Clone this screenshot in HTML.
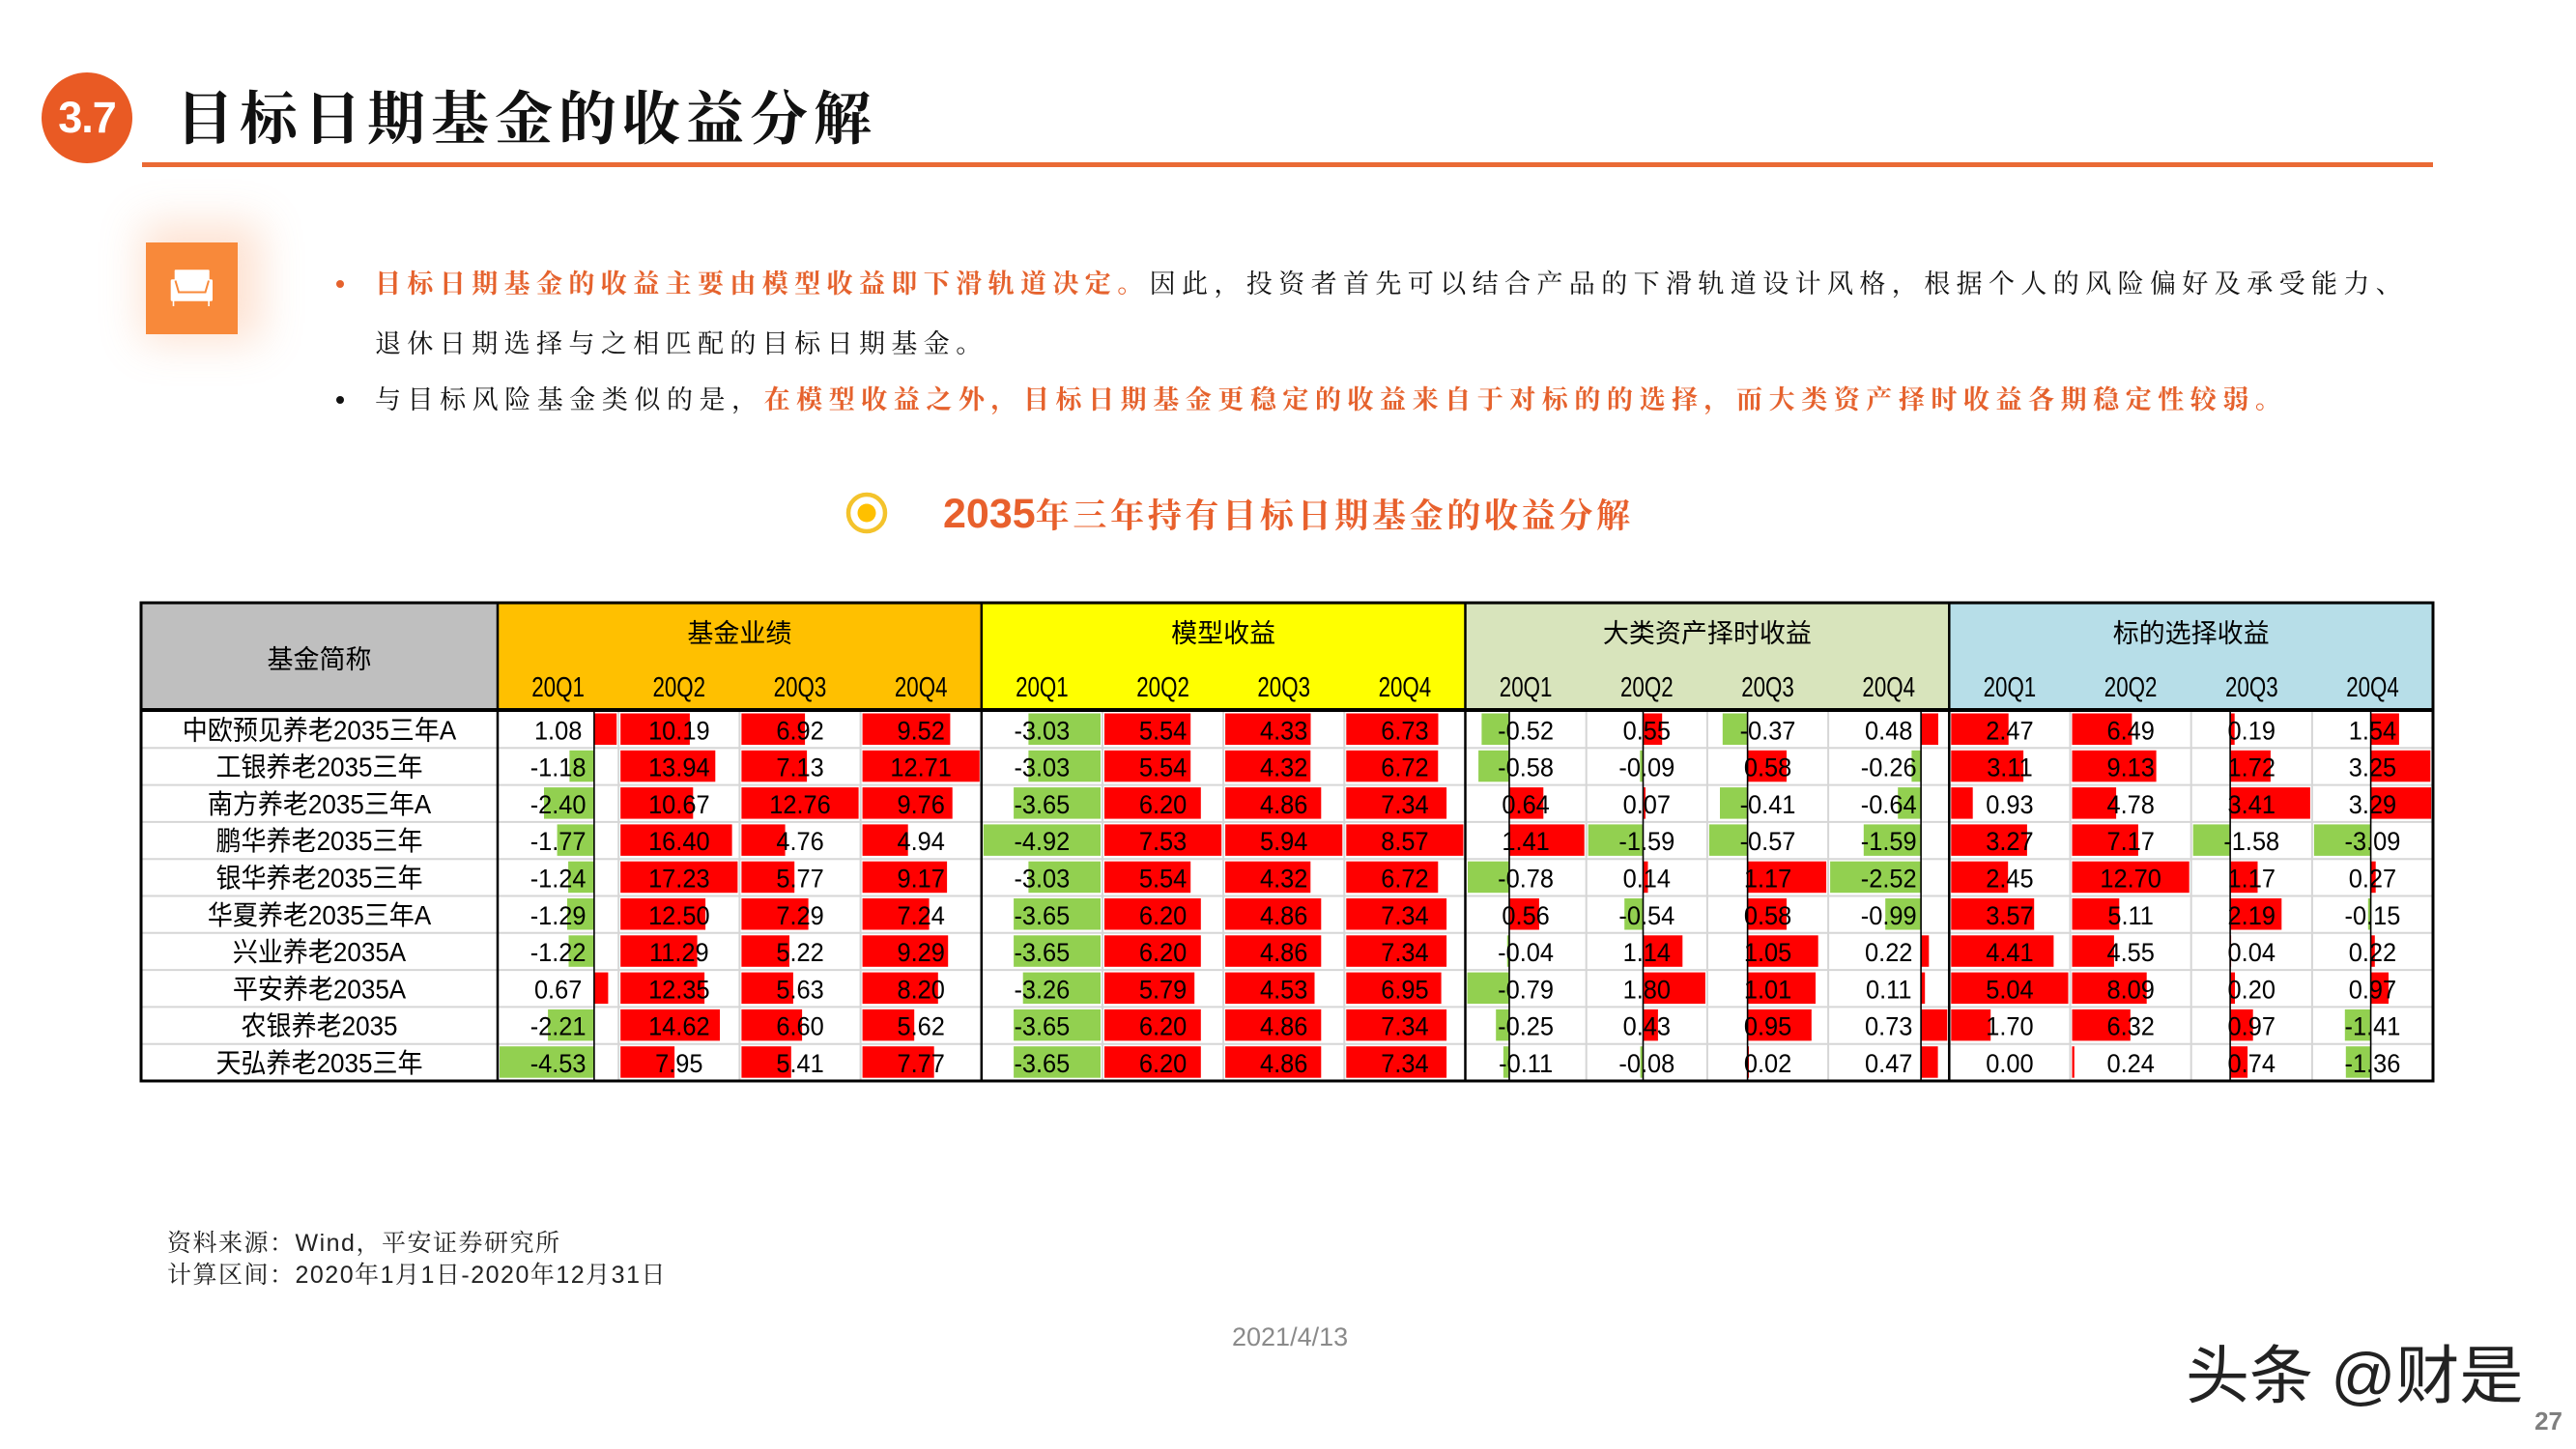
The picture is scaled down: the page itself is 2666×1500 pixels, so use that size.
<!DOCTYPE html>
<html>
<head>
<meta charset="utf-8">
<style>
  html,body{margin:0;padding:0;background:#fff;}
  #page{position:relative;width:2666px;height:1500px;overflow:hidden;background:#fff;}
  .abs{position:absolute;white-space:nowrap;}
  .badge{left:43px;top:75px;width:94px;height:94px;border-radius:50%;background:#E95A24;color:#fff;
    font:bold 45px/94px "Liberation Sans",sans-serif;text-align:center;letter-spacing:-1px;}
  .title{left:182px;top:93px;height:62px;font:bold 60px/62px "Liberation Serif","Noto Serif CJK SC",serif;letter-spacing:6px;color:#111;}
  .rule{left:147px;top:168px;width:2371px;height:5px;background:#EA6A35;}
  .ibox{left:151px;top:251px;width:95px;height:95px;background:#F8893A;box-shadow:10px -6px 40px 14px rgba(249,160,105,0.30);}
  .txt{font-family:"Liberation Serif","Noto Serif CJK SC",serif;font-size:27px;line-height:40px;height:40px;color:#111;}
  .or{color:#E5622D;font-weight:bold;}
  .dot{width:8px;height:8px;border-radius:50%;}
  .ctitle{left:976px;top:508px;height:48px;line-height:48px;color:#E8602C;font-weight:bold;font-family:"Liberation Sans","Noto Serif CJK SC",serif;}
  .foot{left:173px;font-family:"Liberation Sans","Noto Serif CJK SC",serif;font-size:25px;line-height:32px;height:32px;letter-spacing:1.5px;color:#222;}
</style>
</head>
<body>
<div id="page">
  <div class="abs badge">3.7</div>
  <div class="abs title">目标日期基金的收益分解</div>
  <div class="abs rule"></div>

  <div class="abs ibox">
    <svg width="95" height="95" viewBox="0 0 95 95">
      <g fill="#fff">
        <rect x="25.7" y="38.3" width="43.3" height="22.4" rx="1.5"/>
        <rect x="29.7" y="28.3" width="36" height="13" rx="1"/>
        <rect x="27.7" y="60" width="1.6" height="6"/>
        <rect x="64.3" y="60" width="1.6" height="6"/>
      </g>
      <path d="M30.5 39.5 L34 51.5 L61.5 51.5 L65 39.5" fill="none" stroke="#F8893A" stroke-width="2"/>
    </svg>
  </div>

  <!-- bullets -->
  <div class="abs dot" style="left:348px;top:290px;background:#E5622D;"></div>
  <div class="abs txt" style="left:388px;top:274px;letter-spacing:6.4px;"><span class="or">目标日期基金的收益主要由模型收益即下滑轨道决定。</span>因此，投资者首先可以结合产品的下滑轨道设计风格，根据个人的风险偏好及承受能力、</div>
  <div class="abs txt" style="left:388px;top:336px;letter-spacing:6.4px;">退休日期选择与之相匹配的目标日期基金。</div>
  <div class="abs dot" style="left:348px;top:410px;background:#111;"></div>
  <div class="abs txt" style="left:388px;top:394px;letter-spacing:6.55px;">与目标风险基金类似的是，<span class="or">在模型收益之外，目标日期基金更稳定的收益来自于对标的的选择，而大类资产择时收益各期稳定性较弱。</span></div>

  <!-- chart title -->
  <svg class="abs" style="left:870px;top:504px;" width="54" height="54" viewBox="870 504 54 54">
    <circle cx="897" cy="531" r="19" fill="none" stroke="#F4C32C" stroke-width="4.5"/>
    <circle cx="897" cy="531" r="9.5" fill="#FFC000"/>
  </svg>
  <div class="abs ctitle"><span style="font-size:43px;">2035</span><span style="font-size:35px;letter-spacing:3.7px;">年三年持有目标日期基金的收益分解</span></div>

  <!-- table -->
  <svg class="abs" style="left:0;top:0;" width="2666" height="1500" viewBox="0 0 2666 1500">
    <style>
      .r{fill:#FF0000}.g{fill:#92D050}
      .num{font-family:'Liberation Sans',sans-serif;font-size:27px;fill:#000;}
      .nm{font-family:'Liberation Sans','Noto Sans CJK SC',sans-serif;font-size:28px;fill:#000;}
      .hd{font-family:'Liberation Sans','Noto Sans CJK SC',sans-serif;font-size:27px;fill:#000;}
      .q{font-family:'Liberation Sans',sans-serif;font-size:29px;fill:#000;}
    </style>
    <!-- header fills -->
    <rect x="146" y="624" width="369" height="111" fill="#BFBFBF"/>
    <rect x="515" y="624" width="500.8" height="111" fill="#FFC000"/>
    <rect x="1015.8" y="624" width="500.7" height="111" fill="#FFFF00"/>
    <rect x="1516.5" y="624" width="500.8" height="111" fill="#D8E4BC"/>
    <rect x="2017.3" y="624" width="500.8" height="111" fill="#B7DEE8"/>

    <!-- grid -->
    <g stroke="#D6D6D6" stroke-width="2">
      <line x1="146" y1="774.3" x2="2518" y2="774.3"/>
      <line x1="146" y1="812.6" x2="2518" y2="812.6"/>
      <line x1="146" y1="850.9" x2="2518" y2="850.9"/>
      <line x1="146" y1="889.2" x2="2518" y2="889.2"/>
      <line x1="146" y1="927.5" x2="2518" y2="927.5"/>
      <line x1="146" y1="965.8" x2="2518" y2="965.8"/>
      <line x1="146" y1="1004.1" x2="2518" y2="1004.1"/>
      <line x1="146" y1="1042.4" x2="2518" y2="1042.4"/>
      <line x1="146" y1="1080.7" x2="2518" y2="1080.7"/>
      <line x1="640.2" y1="736" x2="640.2" y2="1119"/>
      <line x1="765.4" y1="736" x2="765.4" y2="1119"/>
      <line x1="890.6" y1="736" x2="890.6" y2="1119"/>
      <line x1="1141.0" y1="736" x2="1141.0" y2="1119"/>
      <line x1="1266.1" y1="736" x2="1266.1" y2="1119"/>
      <line x1="1391.3" y1="736" x2="1391.3" y2="1119"/>
      <line x1="1641.7" y1="736" x2="1641.7" y2="1119"/>
      <line x1="1766.9" y1="736" x2="1766.9" y2="1119"/>
      <line x1="1892.1" y1="736" x2="1892.1" y2="1119"/>
      <line x1="2142.5" y1="736" x2="2142.5" y2="1119"/>
      <line x1="2267.7" y1="736" x2="2267.7" y2="1119"/>
      <line x1="2392.9" y1="736" x2="2392.9" y2="1119"/>
    </g>

    <!-- bars col0 -->
    <rect class="r" x="614.9" y="738.5" width="23.3" height="32.5"/>
    <rect class="g" x="589.4" y="776.8" width="25.5" height="32.5"/>
    <rect class="g" x="563.0" y="815.1" width="51.9" height="32.5"/>
    <rect class="g" x="576.6" y="853.4" width="38.3" height="32.5"/>
    <rect class="g" x="588.1" y="891.7" width="26.8" height="32.5"/>
    <rect class="g" x="587.0" y="930.0" width="27.9" height="32.5"/>
    <rect class="g" x="588.5" y="968.3" width="26.4" height="32.5"/>
    <rect class="r" x="614.9" y="1006.6" width="14.5" height="32.5"/>
    <rect class="g" x="567.1" y="1044.9" width="47.8" height="32.5"/>
    <rect class="g" x="517.0" y="1083.2" width="97.9" height="32.5"/>
    <!-- col1 -->
    <g class="r">
    <rect x="642.2" y="738.5" width="71.7" height="32.5"/>
    <rect x="642.2" y="776.8" width="98.1" height="32.5"/>
    <rect x="642.2" y="815.1" width="75.1" height="32.5"/>
    <rect x="642.2" y="853.4" width="115.4" height="32.5"/>
    <rect x="642.2" y="891.7" width="121.2" height="32.5"/>
    <rect x="642.2" y="930.0" width="87.9" height="32.5"/>
    <rect x="642.2" y="968.3" width="79.4" height="32.5"/>
    <rect x="642.2" y="1006.6" width="86.9" height="32.5"/>
    <rect x="642.2" y="1044.9" width="102.8" height="32.5"/>
    <rect x="642.2" y="1083.2" width="55.9" height="32.5"/>
    <!-- col2 -->
    <rect x="767.4" y="738.5" width="65.7" height="32.5"/>
    <rect x="767.4" y="776.8" width="67.7" height="32.5"/>
    <rect x="767.4" y="815.1" width="121.2" height="32.5"/>
    <rect x="767.4" y="853.4" width="45.2" height="32.5"/>
    <rect x="767.4" y="891.7" width="54.8" height="32.5"/>
    <rect x="767.4" y="930.0" width="69.2" height="32.5"/>
    <rect x="767.4" y="968.3" width="49.6" height="32.5"/>
    <rect x="767.4" y="1006.6" width="53.5" height="32.5"/>
    <rect x="767.4" y="1044.9" width="62.7" height="32.5"/>
    <rect x="767.4" y="1083.2" width="51.4" height="32.5"/>
    <!-- col3 -->
    <rect x="892.6" y="738.5" width="90.8" height="32.5"/>
    <rect x="892.6" y="776.8" width="121.2" height="32.5"/>
    <rect x="892.6" y="815.1" width="93.1" height="32.5"/>
    <rect x="892.6" y="853.4" width="47.1" height="32.5"/>
    <rect x="892.6" y="891.7" width="87.5" height="32.5"/>
    <rect x="892.6" y="930.0" width="69.0" height="32.5"/>
    <rect x="892.6" y="968.3" width="88.6" height="32.5"/>
    <rect x="892.6" y="1006.6" width="78.2" height="32.5"/>
    <rect x="892.6" y="1044.9" width="53.6" height="32.5"/>
    <rect x="892.6" y="1083.2" width="74.1" height="32.5"/>
    </g>
    <!-- col4 -->
    <g class="g">
    <rect x="1064.4" y="738.5" width="74.6" height="32.5"/>
    <rect x="1064.4" y="776.8" width="74.6" height="32.5"/>
    <rect x="1049.1" y="815.1" width="89.9" height="32.5"/>
    <rect x="1017.8" y="853.4" width="121.2" height="32.5"/>
    <rect x="1064.4" y="891.7" width="74.6" height="32.5"/>
    <rect x="1049.1" y="930.0" width="89.9" height="32.5"/>
    <rect x="1049.1" y="968.3" width="89.9" height="32.5"/>
    <rect x="1058.7" y="1006.6" width="80.3" height="32.5"/>
    <rect x="1049.1" y="1044.9" width="89.9" height="32.5"/>
    <rect x="1049.1" y="1083.2" width="89.9" height="32.5"/>
    </g>
    <g class="r">
    <!-- col5 -->
    <rect x="1143.0" y="738.5" width="89.2" height="32.5"/>
    <rect x="1143.0" y="776.8" width="89.2" height="32.5"/>
    <rect x="1143.0" y="815.1" width="99.8" height="32.5"/>
    <rect x="1143.0" y="853.4" width="121.2" height="32.5"/>
    <rect x="1143.0" y="891.7" width="89.2" height="32.5"/>
    <rect x="1143.0" y="930.0" width="99.8" height="32.5"/>
    <rect x="1143.0" y="968.3" width="99.8" height="32.5"/>
    <rect x="1143.0" y="1006.6" width="93.2" height="32.5"/>
    <rect x="1143.0" y="1044.9" width="99.8" height="32.5"/>
    <rect x="1143.0" y="1083.2" width="99.8" height="32.5"/>
    <!-- col6 -->
    <rect x="1268.1" y="738.5" width="88.4" height="32.5"/>
    <rect x="1268.1" y="776.8" width="88.2" height="32.5"/>
    <rect x="1268.1" y="815.1" width="99.2" height="32.5"/>
    <rect x="1268.1" y="853.4" width="121.2" height="32.5"/>
    <rect x="1268.1" y="891.7" width="88.2" height="32.5"/>
    <rect x="1268.1" y="930.0" width="99.2" height="32.5"/>
    <rect x="1268.1" y="968.3" width="99.2" height="32.5"/>
    <rect x="1268.1" y="1006.6" width="92.4" height="32.5"/>
    <rect x="1268.1" y="1044.9" width="99.2" height="32.5"/>
    <rect x="1268.1" y="1083.2" width="99.2" height="32.5"/>
    <!-- col7 -->
    <rect x="1393.3" y="738.5" width="95.2" height="32.5"/>
    <rect x="1393.3" y="776.8" width="95.0" height="32.5"/>
    <rect x="1393.3" y="815.1" width="103.8" height="32.5"/>
    <rect x="1393.3" y="853.4" width="121.2" height="32.5"/>
    <rect x="1393.3" y="891.7" width="95.0" height="32.5"/>
    <rect x="1393.3" y="930.0" width="103.8" height="32.5"/>
    <rect x="1393.3" y="968.3" width="103.8" height="32.5"/>
    <rect x="1393.3" y="1006.6" width="98.3" height="32.5"/>
    <rect x="1393.3" y="1044.9" width="103.8" height="32.5"/>
    <rect x="1393.3" y="1083.2" width="103.8" height="32.5"/>
    </g>
    <!-- col8 axis 1562.0 -->
    <rect class="g" x="1533.4" y="738.5" width="28.6" height="32.5"/>
    <rect class="g" x="1530.1" y="776.8" width="31.9" height="32.5"/>
    <rect class="r" x="1562.0" y="815.1" width="35.3" height="32.5"/>
    <rect class="r" x="1562.0" y="853.4" width="77.7" height="32.5"/>
    <rect class="g" x="1519.0" y="891.7" width="43.0" height="32.5"/>
    <rect class="r" x="1562.0" y="930.0" width="30.9" height="32.5"/>
    <rect class="g" x="1559.8" y="968.3" width="2.2" height="32.5"/>
    <rect class="g" x="1518.5" y="1006.6" width="43.5" height="32.5"/>
    <rect class="g" x="1548.2" y="1044.9" width="13.8" height="32.5"/>
    <rect class="g" x="1555.9" y="1083.2" width="6.1" height="32.5"/>
    <!-- col9 axis 1700.5 -->
    <rect class="r" x="1700.5" y="738.5" width="19.7" height="32.5"/>
    <rect class="g" x="1697.3" y="776.8" width="3.2" height="32.5"/>
    <rect class="r" x="1700.5" y="815.1" width="2.5" height="32.5"/>
    <rect class="g" x="1643.7" y="853.4" width="56.8" height="32.5"/>
    <rect class="r" x="1700.5" y="891.7" width="5.0" height="32.5"/>
    <rect class="g" x="1681.2" y="930.0" width="19.3" height="32.5"/>
    <rect class="r" x="1700.5" y="968.3" width="40.8" height="32.5"/>
    <rect class="r" x="1700.5" y="1006.6" width="64.4" height="32.5"/>
    <rect class="r" x="1700.5" y="1044.9" width="15.4" height="32.5"/>
    <rect class="g" x="1697.6" y="1083.2" width="2.9" height="32.5"/>
    <!-- col10 axis 1808.6 -->
    <rect class="g" x="1782.8" y="738.5" width="25.8" height="32.5"/>
    <rect class="r" x="1808.6" y="776.8" width="40.4" height="32.5"/>
    <rect class="g" x="1780.0" y="815.1" width="28.6" height="32.5"/>
    <rect class="g" x="1768.9" y="853.4" width="39.7" height="32.5"/>
    <rect class="r" x="1808.6" y="891.7" width="81.5" height="32.5"/>
    <rect class="r" x="1808.6" y="930.0" width="40.4" height="32.5"/>
    <rect class="r" x="1808.6" y="968.3" width="73.1" height="32.5"/>
    <rect class="r" x="1808.6" y="1006.6" width="70.4" height="32.5"/>
    <rect class="r" x="1808.6" y="1044.9" width="66.2" height="32.5"/>
    <rect class="r" x="1808.6" y="1083.2" width="1.4" height="32.5"/>
    <!-- col11 axis 1988.1 -->
    <rect class="r" x="1988.1" y="738.5" width="17.9" height="32.5"/>
    <rect class="g" x="1978.4" y="776.8" width="9.7" height="32.5"/>
    <rect class="g" x="1964.2" y="815.1" width="23.9" height="32.5"/>
    <rect class="g" x="1928.8" y="853.4" width="59.3" height="32.5"/>
    <rect class="g" x="1894.1" y="891.7" width="94.0" height="32.5"/>
    <rect class="g" x="1951.2" y="930.0" width="36.9" height="32.5"/>
    <rect class="r" x="1988.1" y="968.3" width="8.2" height="32.5"/>
    <rect class="r" x="1988.1" y="1006.6" width="4.1" height="32.5"/>
    <rect class="r" x="1988.1" y="1044.9" width="27.2" height="32.5"/>
    <rect class="r" x="1988.1" y="1083.2" width="17.5" height="32.5"/>
    <!-- col12 -->
    <g class="r">
    <rect x="2019.3" y="738.5" width="59.4" height="32.5"/>
    <rect x="2019.3" y="776.8" width="74.8" height="32.5"/>
    <rect x="2019.3" y="815.1" width="22.4" height="32.5"/>
    <rect x="2019.3" y="853.4" width="78.6" height="32.5"/>
    <rect x="2019.3" y="891.7" width="58.9" height="32.5"/>
    <rect x="2019.3" y="930.0" width="85.9" height="32.5"/>
    <rect x="2019.3" y="968.3" width="106.1" height="32.5"/>
    <rect x="2019.3" y="1006.6" width="121.2" height="32.5"/>
    <rect x="2019.3" y="1044.9" width="40.9" height="32.5"/>
    <!-- col13 -->
    <rect x="2144.5" y="738.5" width="61.9" height="32.5"/>
    <rect x="2144.5" y="776.8" width="87.1" height="32.5"/>
    <rect x="2144.5" y="815.1" width="45.6" height="32.5"/>
    <rect x="2144.5" y="853.4" width="68.4" height="32.5"/>
    <rect x="2144.5" y="891.7" width="121.2" height="32.5"/>
    <rect x="2144.5" y="930.0" width="48.8" height="32.5"/>
    <rect x="2144.5" y="968.3" width="43.4" height="32.5"/>
    <rect x="2144.5" y="1006.6" width="77.2" height="32.5"/>
    <rect x="2144.5" y="1044.9" width="60.3" height="32.5"/>
    <rect x="2144.5" y="1083.2" width="2.3" height="32.5"/>
    <!-- col14 axis 2308.1 -->
    <rect x="2308.1" y="738.5" width="4.6" height="32.5"/>
    <rect x="2308.1" y="776.8" width="41.8" height="32.5"/>
    <rect x="2308.1" y="815.1" width="82.8" height="32.5"/>
    <rect x="2308.1" y="891.7" width="28.4" height="32.5"/>
    <rect x="2308.1" y="930.0" width="53.2" height="32.5"/>
    <rect x="2308.1" y="968.3" width="1.0" height="32.5"/>
    <rect x="2308.1" y="1006.6" width="4.9" height="32.5"/>
    <rect x="2308.1" y="1044.9" width="23.6" height="32.5"/>
    <rect x="2308.1" y="1083.2" width="18.0" height="32.5"/>
    <!-- col15 axis 2453.6 -->
    <rect x="2453.6" y="738.5" width="29.3" height="32.5"/>
    <rect x="2453.6" y="776.8" width="61.7" height="32.5"/>
    <rect x="2453.6" y="815.1" width="62.5" height="32.5"/>
    <rect x="2453.6" y="891.7" width="5.1" height="32.5"/>
    <rect x="2453.6" y="968.3" width="4.2" height="32.5"/>
    <rect x="2453.6" y="1006.6" width="18.4" height="32.5"/>
    </g>
    <rect class="g" x="2269.7" y="853.4" width="38.4" height="32.5"/>
    <rect class="g" x="2394.9" y="853.4" width="58.7" height="32.5"/>
    <rect class="g" x="2450.8" y="930.0" width="2.8" height="32.5"/>
    <rect class="g" x="2426.8" y="1044.9" width="26.8" height="32.5"/>
    <rect class="g" x="2427.8" y="1083.2" width="25.8" height="32.5"/>

    <!-- axis lines -->
    <g stroke="#000" stroke-width="1.6">
      <line x1="614.9" y1="736" x2="614.9" y2="1119"/>
      <line x1="1562.0" y1="736" x2="1562.0" y2="1119"/>
      <line x1="1700.5" y1="736" x2="1700.5" y2="1119"/>
      <line x1="1808.6" y1="736" x2="1808.6" y2="1119"/>
      <line x1="1988.1" y1="736" x2="1988.1" y2="1119"/>
      <line x1="2308.1" y1="736" x2="2308.1" y2="1119"/>
      <line x1="2453.6" y1="736" x2="2453.6" y2="1119"/>
    </g>

    <!-- header text -->
    <text class="hd" x="330.5" y="692" text-anchor="middle">基金简称</text>
    <g class="hd" text-anchor="middle">
      <text x="765.4" y="665">基金业绩</text>
      <text x="1266.1" y="665">模型收益</text>
      <text x="1766.9" y="665">大类资产择时收益</text>
      <text x="2267.7" y="665">标的选择收益</text>
    </g>
    <g transform="scale(0.77,1)" class="q" text-anchor="middle">
      <text y="721"><tspan x="750.1">20Q1</tspan><tspan x="912.7">20Q2</tspan><tspan x="1075.3">20Q3</tspan><tspan x="1237.9">20Q4</tspan><tspan x="1400.5">20Q1</tspan><tspan x="1563.1">20Q2</tspan><tspan x="1725.6">20Q3</tspan><tspan x="1888.2">20Q4</tspan><tspan x="2050.8">20Q1</tspan><tspan x="2213.4">20Q2</tspan><tspan x="2376.0">20Q3</tspan><tspan x="2538.6">20Q4</tspan><tspan x="2701.2">20Q1</tspan><tspan x="2863.8">20Q2</tspan><tspan x="3026.4">20Q3</tspan><tspan x="3189.0">20Q4</tspan></text>
    </g>

    <!-- names -->
    <g transform="scale(0.93,1)" class="nm" text-anchor="middle">
      <text x="355.4" y="765.3">中欧预见养老2035三年A</text>
      <text x="355.4" y="803.6">工银养老2035三年</text>
      <text x="355.4" y="841.9">南方养老2035三年A</text>
      <text x="355.4" y="880.2">鹏华养老2035三年</text>
      <text x="355.4" y="918.5">银华养老2035三年</text>
      <text x="355.4" y="956.8">华夏养老2035三年A</text>
      <text x="355.4" y="995.1">兴业养老2035A</text>
      <text x="355.4" y="1033.4">平安养老2035A</text>
      <text x="355.4" y="1071.7">农银养老2035</text>
      <text x="355.4" y="1110.0">天弘养老2035三年</text>
    </g>

    <!-- numbers -->
    <g transform="scale(0.94,1)" class="num" text-anchor="middle">
      <text y="765.3"><tspan x="614.5">1.08</tspan><tspan x="747.7">10.19</tspan><tspan x="880.9">6.92</tspan><tspan x="1014.0">9.52</tspan><tspan x="1147.2">-3.03</tspan><tspan x="1280.4">5.54</tspan><tspan x="1413.5">4.33</tspan><tspan x="1546.7">6.73</tspan><tspan x="1679.9">-0.52</tspan><tspan x="1813.1">0.55</tspan><tspan x="1946.3">-0.37</tspan><tspan x="2079.5">0.48</tspan><tspan x="2212.7">2.47</tspan><tspan x="2345.9">6.49</tspan><tspan x="2479.0">0.19</tspan><tspan x="2612.2">1.54</tspan></text>
      <text y="803.6"><tspan x="614.5">-1.18</tspan><tspan x="747.7">13.94</tspan><tspan x="880.9">7.13</tspan><tspan x="1014.0">12.71</tspan><tspan x="1147.2">-3.03</tspan><tspan x="1280.4">5.54</tspan><tspan x="1413.5">4.32</tspan><tspan x="1546.7">6.72</tspan><tspan x="1679.9">-0.58</tspan><tspan x="1813.1">-0.09</tspan><tspan x="1946.3">0.58</tspan><tspan x="2079.5">-0.26</tspan><tspan x="2212.7">3.11</tspan><tspan x="2345.9">9.13</tspan><tspan x="2479.0">1.72</tspan><tspan x="2612.2">3.25</tspan></text>
      <text y="841.9"><tspan x="614.5">-2.40</tspan><tspan x="747.7">10.67</tspan><tspan x="880.9">12.76</tspan><tspan x="1014.0">9.76</tspan><tspan x="1147.2">-3.65</tspan><tspan x="1280.4">6.20</tspan><tspan x="1413.5">4.86</tspan><tspan x="1546.7">7.34</tspan><tspan x="1679.9">0.64</tspan><tspan x="1813.1">0.07</tspan><tspan x="1946.3">-0.41</tspan><tspan x="2079.5">-0.64</tspan><tspan x="2212.7">0.93</tspan><tspan x="2345.9">4.78</tspan><tspan x="2479.0">3.41</tspan><tspan x="2612.2">3.29</tspan></text>
      <text y="880.2"><tspan x="614.5">-1.77</tspan><tspan x="747.7">16.40</tspan><tspan x="880.9">4.76</tspan><tspan x="1014.0">4.94</tspan><tspan x="1147.2">-4.92</tspan><tspan x="1280.4">7.53</tspan><tspan x="1413.5">5.94</tspan><tspan x="1546.7">8.57</tspan><tspan x="1679.9">1.41</tspan><tspan x="1813.1">-1.59</tspan><tspan x="1946.3">-0.57</tspan><tspan x="2079.5">-1.59</tspan><tspan x="2212.7">3.27</tspan><tspan x="2345.9">7.17</tspan><tspan x="2479.0">-1.58</tspan><tspan x="2612.2">-3.09</tspan></text>
      <text y="918.5"><tspan x="614.5">-1.24</tspan><tspan x="747.7">17.23</tspan><tspan x="880.9">5.77</tspan><tspan x="1014.0">9.17</tspan><tspan x="1147.2">-3.03</tspan><tspan x="1280.4">5.54</tspan><tspan x="1413.5">4.32</tspan><tspan x="1546.7">6.72</tspan><tspan x="1679.9">-0.78</tspan><tspan x="1813.1">0.14</tspan><tspan x="1946.3">1.17</tspan><tspan x="2079.5">-2.52</tspan><tspan x="2212.7">2.45</tspan><tspan x="2345.9">12.70</tspan><tspan x="2479.0">1.17</tspan><tspan x="2612.2">0.27</tspan></text>
      <text y="956.8"><tspan x="614.5">-1.29</tspan><tspan x="747.7">12.50</tspan><tspan x="880.9">7.29</tspan><tspan x="1014.0">7.24</tspan><tspan x="1147.2">-3.65</tspan><tspan x="1280.4">6.20</tspan><tspan x="1413.5">4.86</tspan><tspan x="1546.7">7.34</tspan><tspan x="1679.9">0.56</tspan><tspan x="1813.1">-0.54</tspan><tspan x="1946.3">0.58</tspan><tspan x="2079.5">-0.99</tspan><tspan x="2212.7">3.57</tspan><tspan x="2345.9">5.11</tspan><tspan x="2479.0">2.19</tspan><tspan x="2612.2">-0.15</tspan></text>
      <text y="995.1"><tspan x="614.5">-1.22</tspan><tspan x="747.7">11.29</tspan><tspan x="880.9">5.22</tspan><tspan x="1014.0">9.29</tspan><tspan x="1147.2">-3.65</tspan><tspan x="1280.4">6.20</tspan><tspan x="1413.5">4.86</tspan><tspan x="1546.7">7.34</tspan><tspan x="1679.9">-0.04</tspan><tspan x="1813.1">1.14</tspan><tspan x="1946.3">1.05</tspan><tspan x="2079.5">0.22</tspan><tspan x="2212.7">4.41</tspan><tspan x="2345.9">4.55</tspan><tspan x="2479.0">0.04</tspan><tspan x="2612.2">0.22</tspan></text>
      <text y="1033.4"><tspan x="614.5">0.67</tspan><tspan x="747.7">12.35</tspan><tspan x="880.9">5.63</tspan><tspan x="1014.0">8.20</tspan><tspan x="1147.2">-3.26</tspan><tspan x="1280.4">5.79</tspan><tspan x="1413.5">4.53</tspan><tspan x="1546.7">6.95</tspan><tspan x="1679.9">-0.79</tspan><tspan x="1813.1">1.80</tspan><tspan x="1946.3">1.01</tspan><tspan x="2079.5">0.11</tspan><tspan x="2212.7">5.04</tspan><tspan x="2345.9">8.09</tspan><tspan x="2479.0">0.20</tspan><tspan x="2612.2">0.97</tspan></text>
      <text y="1071.7"><tspan x="614.5">-2.21</tspan><tspan x="747.7">14.62</tspan><tspan x="880.9">6.60</tspan><tspan x="1014.0">5.62</tspan><tspan x="1147.2">-3.65</tspan><tspan x="1280.4">6.20</tspan><tspan x="1413.5">4.86</tspan><tspan x="1546.7">7.34</tspan><tspan x="1679.9">-0.25</tspan><tspan x="1813.1">0.43</tspan><tspan x="1946.3">0.95</tspan><tspan x="2079.5">0.73</tspan><tspan x="2212.7">1.70</tspan><tspan x="2345.9">6.32</tspan><tspan x="2479.0">0.97</tspan><tspan x="2612.2">-1.41</tspan></text>
      <text y="1110.0"><tspan x="614.5">-4.53</tspan><tspan x="747.7">7.95</tspan><tspan x="880.9">5.41</tspan><tspan x="1014.0">7.77</tspan><tspan x="1147.2">-3.65</tspan><tspan x="1280.4">6.20</tspan><tspan x="1413.5">4.86</tspan><tspan x="1546.7">7.34</tspan><tspan x="1679.9">-0.11</tspan><tspan x="1813.1">-0.08</tspan><tspan x="1946.3">0.02</tspan><tspan x="2079.5">0.47</tspan><tspan x="2212.7">0.00</tspan><tspan x="2345.9">0.24</tspan><tspan x="2479.0">0.74</tspan><tspan x="2612.2">-1.36</tspan></text>
    </g>

    <!-- black borders -->
    <g stroke="#000" fill="none">
      <line x1="146" y1="735" x2="2518" y2="735" stroke-width="4"/>
      <line x1="515" y1="624" x2="515" y2="1119" stroke-width="2.5"/>
      <line x1="1015.8" y1="624" x2="1015.8" y2="1119" stroke-width="2.5"/>
      <line x1="1516.5" y1="624" x2="1516.5" y2="1119" stroke-width="2.5"/>
      <line x1="2017.3" y1="624" x2="2017.3" y2="1119" stroke-width="2.5"/>
      <rect x="146" y="624" width="2372" height="495" stroke-width="3"/>
    </g>
  </svg>

  <!-- footer -->
  <div class="abs foot" style="top:1271px;">资料来源：Wind，平安证券研究所</div>
  <div class="abs foot" style="top:1304px;">计算区间：2020年1月1日-2020年12月31日</div>
  <div class="abs" style="left:1275px;top:1368px;width:120px;text-align:center;font:27px/32px 'Liberation Sans',sans-serif;color:#8a8a8a;">2021/4/13</div>
  <div class="abs" style="left:2262px;top:1386px;height:76px;font:66px/76px 'Liberation Sans','Noto Sans CJK SC',sans-serif;color:#222;">头条 @财是</div>
  <div class="abs" style="left:2612px;top:1456px;width:40px;text-align:right;font:bold 26px/30px 'Liberation Sans',sans-serif;color:#7f7f7f;">27</div>
</div>
</body>
</html>
